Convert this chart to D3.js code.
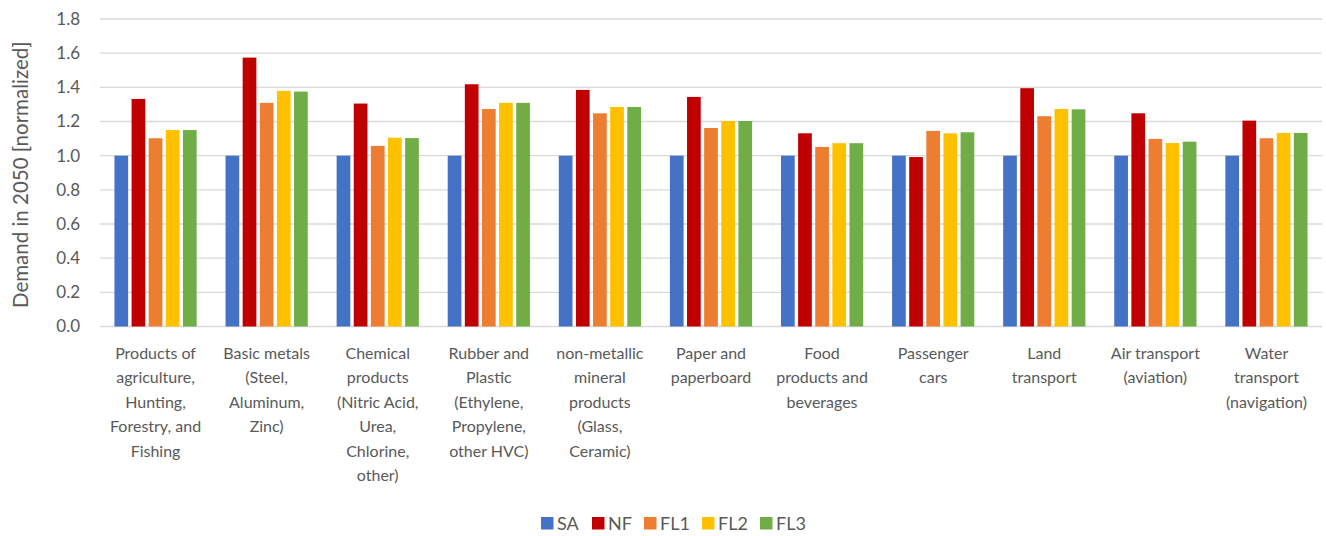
<!DOCTYPE html>
<html>
<head>
<meta charset="utf-8">
<script src="https://cdn.jsdelivr.net/npm/d3@7"></script>
<style>
  body { margin: 0; background: #fff; }
  svg text { font-family: Lato, "Open Sans", sans-serif; fill: #595959; }
</style>
</head>
<body>
<svg id="chart"></svg>
<script>
// category labels, already broken into lines as in the original
const categories = [
  ["Products of", "agriculture,", "Hunting,", "Forestry, and", "Fishing"],
  ["Basic metals", "(Steel,", "Aluminum,", "Zinc)"],
  ["Chemical", "products", "(Nitric Acid,", "Urea,", "Chlorine,", "other)"],
  ["Rubber and", "Plastic", "(Ethylene,", "Propylene,", "other HVC)"],
  ["non-metallic", "mineral", "products", "(Glass,", "Ceramic)"],
  ["Paper and", "paperboard"],
  ["Food", "products and", "beverages"],
  ["Passenger", "cars"],
  ["Land", "transport"],
  ["Air transport", "(aviation)"],
  ["Water", "transport", "(navigation)"]
];

const seriesNames = ["SA", "NF", "FL1", "FL2", "FL3"];
const seriesColors = ["#4472C4", "#C00000", "#ED7D31", "#FFC000", "#70AD47"];

const SA  = [1.00, 1.00, 1.00, 1.00, 1.00, 1.00, 1.00, 1.00, 1.00, 1.00, 1.00];
const NF  = [1.332, 1.574, 1.305, 1.418, 1.385, 1.344, 1.131, 0.992, 1.395, 1.248, 1.205];
const FL1 = [1.102, 1.309, 1.057, 1.273, 1.248, 1.162, 1.051, 1.145, 1.231, 1.098, 1.102];
const FL2 = [1.150, 1.379, 1.105, 1.309, 1.285, 1.203, 1.073, 1.131, 1.273, 1.074, 1.133];
const FL3 = [1.150, 1.375, 1.103, 1.309, 1.285, 1.203, 1.073, 1.137, 1.271, 1.082, 1.133];

const yTicks = [0, 0.2, 0.4, 0.6, 0.8, 1.0, 1.2, 1.4, 1.6, 1.8];
const yLabel = "Demand in 2050 [normalized]";

const seriesValues = [SA, NF, FL1, FL2, FL3];
const data = categories.map((c, i) => ({
  key: i,
  lines: c,
  values: seriesNames.map((s, j) => ({ series: s, value: seriesValues[j][i] }))
}));

const width = 1326, height = 536;
const margin = {top: 19, right: 4, bottom: 209.5, left: 100};
const innerW = width - margin.left - margin.right;
const innerH = height - margin.top - margin.bottom;

const svg = d3.select("#chart").attr("width", width).attr("height", height);
const chart = svg.append("g").attr("transform", `translate(${margin.left},${margin.top})`);

const x0 = d3.scaleBand().domain(data.map(d => d.key)).range([0, innerW]);
const pad = x0.bandwidth() * 0.13;
const x1 = d3.scaleBand().domain(seriesNames).range([pad, x0.bandwidth() - pad]).paddingInner(0.2);
const y = d3.scaleLinear().domain([0, 1.8]).range([innerH, 0]);
const color = d3.scaleOrdinal().domain(seriesNames).range(seriesColors);

// gridlines
chart.append("g")
  .selectAll("line")
  .data(yTicks)
  .join("line")
    .attr("x1", 0)
    .attr("x2", innerW)
    .attr("y1", d => y(d))
    .attr("y2", d => y(d))
    .attr("stroke", "#d9d9d9")
    .attr("stroke-width", 1.3);

// y axis labels
const yAxis = d3.axisLeft(y).tickValues(yTicks).tickFormat(d3.format(".1f")).tickSize(0).tickPadding(20);
const yAxisG = chart.append("g").call(yAxis);
yAxisG.select(".domain").remove();
yAxisG.selectAll("text")
  .style("font-family", "Lato, sans-serif")
  .style("font-size", "17px")
  .attr("fill", "#595959");

// bars
const groups = chart.selectAll(".group")
  .data(data)
  .join("g")
    .attr("class", "group")
    .attr("transform", d => `translate(${x0(d.key)},0)`);

groups.selectAll("rect")
  .data(d => d.values)
  .join("rect")
    .attr("x", d => x1(d.series))
    .attr("width", x1.bandwidth())
    .attr("y", d => y(d.value))
    .attr("height", d => y(0) - y(d.value))
    .attr("fill", d => color(d.series));

// category labels
const catLabels = chart.selectAll(".cat")
  .data(data)
  .join("text")
    .attr("class", "cat")
    .attr("text-anchor", "middle")
    .style("font-size", "16px")
    .attr("transform", d => `translate(${x0(d.key) + x0.bandwidth() / 2},${innerH + 32})`);

catLabels.selectAll("tspan")
  .data(d => d.lines)
  .join("tspan")
    .attr("x", 0)
    .attr("y", (d, i) => i * 24.5)
    .text(d => d);

// y axis title
svg.append("text")
  .attr("transform", `translate(28,${margin.top + innerH / 2 + 2}) rotate(-90)`)
  .attr("text-anchor", "middle")
  .style("font-size", "20.5px")
  .text(yLabel);

// legend
const legendX = [541, 592, 644, 702, 760];
const legend = svg.append("g").attr("transform", "translate(0,517)");
const items = legend.selectAll("g")
  .data(seriesNames)
  .join("g")
    .attr("transform", (d, i) => `translate(${legendX[i]},0)`);
items.append("rect")
  .attr("width", 12.5)
  .attr("height", 12.5)
  .attr("fill", d => color(d));
items.append("text")
  .attr("x", 16)
  .attr("y", 13)
  .style("font-size", "18px")
  .text(d => d);
</script>
</body>
</html>
